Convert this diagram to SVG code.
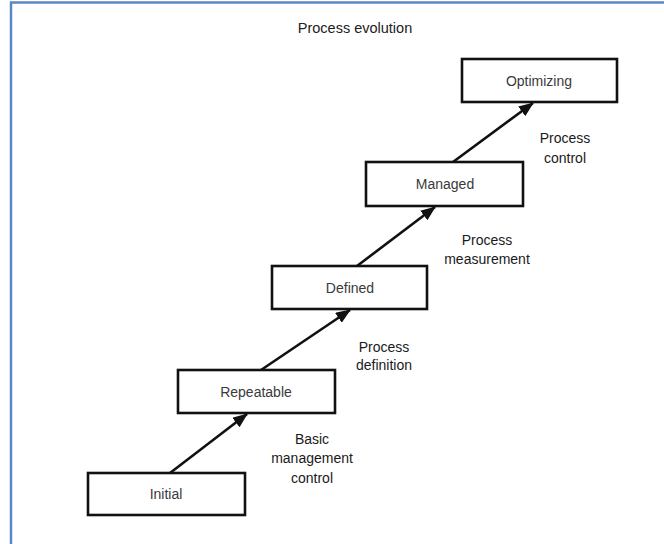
<svg xmlns="http://www.w3.org/2000/svg" width="664" height="544" viewBox="0 0 664 544">
  <style>
    .frame { fill: none; stroke: #5a88c6; stroke-width: 2.5; }
    .box rect { fill: #ffffff; stroke: #111111; stroke-width: 2.6; }
    .box text { font-family: "Liberation Sans", Arial, sans-serif; font-size: 14px; fill: #3a3a3a; text-anchor: middle; }
    .title { font-family: "Liberation Sans", Arial, sans-serif; font-size: 14.5px; fill: #222222; text-anchor: middle; }
    .label { font-family: "Liberation Sans", Arial, sans-serif; font-size: 14px; fill: #1a1a1a; text-anchor: middle; }
    .conn line { stroke: #111111; stroke-width: 2.6; marker-end: url(#head); }
  </style>
  <defs>
    <marker id="head" markerUnits="userSpaceOnUse" markerWidth="16" markerHeight="12" refX="14" refY="6" orient="auto">
      <path d="M0,0 L15,6 L0,12 Z" fill="#111111"/>
    </marker>
  </defs>

  <rect width="664" height="544" fill="#ffffff"/>
  <!-- page frame: only top and left edges fall inside the canvas -->
  <rect class="frame" x="11" y="2.5" width="680" height="580"/>

  <text class="title" x="355" y="33">Process evolution</text>

  <g class="conn" id="connectors">
    <line x1="170" y1="473" x2="247" y2="414"/>
    <line x1="261" y1="370" x2="350" y2="310"/>
    <line x1="357" y1="266" x2="435" y2="207"/>
    <line x1="453" y1="162" x2="533" y2="103"/>
  </g>

  <g class="box" id="initial">
    <rect x="88" y="473" width="157" height="42"/>
    <text x="166" y="499">Initial</text>
  </g>
  <g class="box" id="repeatable">
    <rect x="178" y="370" width="157" height="43"/>
    <text x="256" y="397">Repeatable</text>
  </g>
  <g class="box" id="defined">
    <rect x="272" y="266" width="155" height="43"/>
    <text x="350" y="293">Defined</text>
  </g>
  <g class="box" id="managed">
    <rect x="366" y="162" width="157" height="44"/>
    <text x="445" y="189">Managed</text>
  </g>
  <g class="box" id="optimizing">
    <rect x="462" y="59" width="155" height="43"/>
    <text x="539" y="86">Optimizing</text>
  </g>

  <g id="labels">
    <text class="label" x="312" y="444">Basic</text>
    <text class="label" x="312" y="463">management</text>
    <text class="label" x="312" y="483">control</text>

    <text class="label" x="384" y="352">Process</text>
    <text class="label" x="384" y="370">definition</text>

    <text class="label" x="487" y="245">Process</text>
    <text class="label" x="487" y="264">measurement</text>

    <text class="label" x="565" y="143">Process</text>
    <text class="label" x="565" y="163">control</text>
  </g>
</svg>
